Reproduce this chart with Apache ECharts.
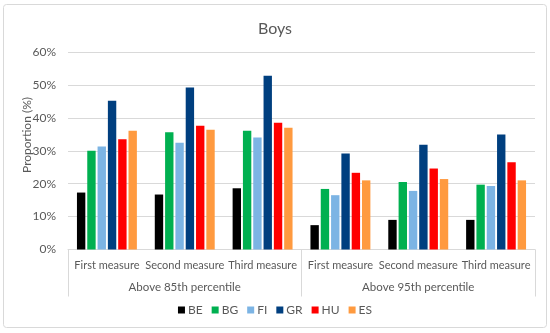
<!DOCTYPE html>
<html>
<head>
<meta charset="utf-8">
<script src="https://cdn.jsdelivr.net/npm/echarts@6/dist/echarts.min.js"></script>
<style>html,body{margin:0;padding:0;background:#fff}#c{width:550px;height:333px}</style>
</head>
<body>
<div id="c"></div>
<script>
const measures = ['First measure','Second measure','Third measure','First measure','Second measure','Third measure'];
const groups = ['Above 85th percentile','Above 95th percentile'];
const countries = ['BE','BG','FI','GR','HU','ES'];
const BE = [17.3, 16.7, 18.6, 7.4, 9.0, 9.0];
const BG = [30.0, 35.6, 36.1, 18.4, 20.5, 19.7];
const FI = [31.3, 32.4, 34.0, 16.5, 17.8, 19.3];
const GR = [45.2, 49.2, 52.8, 29.2, 31.8, 34.9];
const HU = [33.5, 37.6, 38.5, 23.3, 24.6, 26.5];
const ES = [36.1, 36.4, 37.0, 21.0, 21.4, 21.0];
const yTicks = [0, 10, 20, 30, 40, 50, 60];
const colors = ['#000000','#00b050','#7cb4e4','#003f7f','#ff0000','#ff9a3f'];
const seriesData = [BE, BG, FI, GR, HU, ES];

const chart = echarts.init(document.getElementById('c'), null, {renderer:'canvas'});
const txt = '#595959';
const ff = 'Lato';
chart.setOption({
  animation: false,
  color: colors,
  title: {text: 'Boys', left: 'center', top: 16, textStyle: {fontFamily: ff, fontSize: 16, fontWeight: 'normal', color: txt}},
  graphic: [
    {type: 'rect', shape: {x: 3.5, y: 4.5, width: 543, height: 323, r: 3}, style: {fill: 'none', stroke: '#d9d9d9', lineWidth: 1}, silent: true, z: -1},
    {type: 'text', x: 27, y: 135, rotation: Math.PI/2, style: {text: 'Proportion (%)', fill: txt, font: '12px Lato', align: 'center', verticalAlign: 'middle'}}
  ],
  legend: {bottom: 12, left: 'center', itemWidth: 7, itemHeight: 7, itemGap: 9, icon: 'rect',
    textStyle: {color: txt, fontSize: 12, fontFamily: ff, padding: [0,0,0,-2]}, data: countries},
  grid: {left: 68, right: 15, top: 52, bottom: 83.5},
  xAxis: [
    {type: 'category', data: measures, position: 'bottom',
      axisLine: {lineStyle: {color: '#d9d9d9'}}, axisTick: {show: false},
      axisLabel: {color: txt, fontSize: 11, fontFamily: ff, margin: 10, interval: 0}},
    {type: 'category', data: groups, position: 'bottom',
      axisLine: {show: false},
      axisTick: {show: true, length: 47, lineStyle: {color: '#d9d9d9'}},
      axisLabel: {color: txt, fontSize: 11.5, fontFamily: ff, margin: 32, interval: 0}}
  ],
  yAxis: {type: 'value', min: 0, max: 60, interval: 10,
    axisLabel: {formatter: '{value}%', color: txt, fontSize: 12, fontFamily: ff, margin: 12},
    axisLine: {show: false}, axisTick: {show: false},
    splitLine: {lineStyle: {color: '#d9d9d9'}}},
  series: countries.map((n, i) => ({
    name: n, type: 'bar', xAxisIndex: 0, data: seriesData[i],
    barGap: '23%', barCategoryGap: '23%',
    itemStyle: {color: colors[i]}
  }))
});
</script>
</body>
</html>
